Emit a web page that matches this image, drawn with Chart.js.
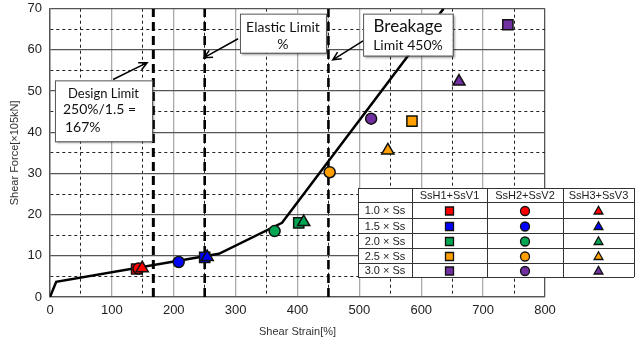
<!DOCTYPE html>
<html>
<head>
<meta charset="utf-8">
<script src="https://cdn.jsdelivr.net/npm/chart.js@4.4.1/dist/chart.umd.min.js"></script>
<style>
  html, body { margin: 0; padding: 0; background: #fff; }
  #wrap { width: 635px; height: 342px; }
</style>
</head>
<body>
<div id="wrap"><canvas id="shearChart"></canvas></div>
<script>
// skeleton curve
var curveStrain = [0, 10, 273, 375, 636];
var curveForce = [0, 3.7, 10.5, 18, 70];

// limit lines (design / elastic / breakage)
var limitStrain = [167, 250, 450];

// legend rows / columns
var levels = ['1.0 × Ss', '1.5 × Ss', '2.0 × Ss', '2.5 × Ss', '3.0 × Ss'];
var waves = ['SsH1+SsV1', 'SsH2+SsV2', 'SsH3+SsV3'];
var levelColors = ['#ff0000', '#0000ff', '#00a651', '#ff9f00', '#7030a0'];

// results per wave, one value per level
var strainH1 = [140, 250, 402, 585, 740];
var forceH1 = [6.8, 9.6, 18.0, 42.7, 66.1];
var strainH2 = [143, 208, 363, 452, 519];
var forceH2 = [6.9, 8.5, 16.0, 30.3, 43.3];
var strainH3 = [149, 254, 410, 546, 661];
var forceH3 = [7.0, 9.7, 18.2, 35.6, 52.3];

function pts(xs, ys) {
  return xs.map(function (x, i) { return { x: x, y: ys[i] } })
}

function markDataset(xs, ys, style, r) {
  return {
    type: 'scatter',
    data: pts(xs, ys),
    pointStyle: style,
    pointRadius: r,
    pointHoverRadius: r,
    pointBackgroundColor: levelColors,
    pointBorderColor: '#111',
    pointBorderWidth: 1.5
  }
}

var datasets = [
  markDataset(strainH3, forceH3, 'triangle', 7),
  markDataset(strainH2, forceH2, 'circle', 5.5),
  markDataset(strainH1, forceH1, 'rect', 7.2),
  {
    type: 'line',
    data: pts(curveStrain, curveForce),
    borderColor: '#000',
    borderWidth: 2.5,
    pointRadius: 0,
    tension: 0
  }
]
limitStrain.forEach(function (s, i) {
  datasets.push({
    type: 'line',
    data: [{ x: s, y: 0 }, { x: s, y: 70 }],
    borderColor: '#000',
    borderWidth: i === 0 ? 3 : 2.6,
    borderDash: [9, 5],
    pointRadius: 0
  })
})

function drawMark(ctx, shape, x, y, s, color) {
  ctx.save();
  ctx.fillStyle = color;
  ctx.strokeStyle = '#111';
  ctx.lineWidth = 1.3;
  ctx.beginPath();
  if (shape === 'rect') {
    ctx.rect(x - s, y - s, 2 * s, 2 * s);
  } else if (shape === 'circle') {
    ctx.arc(x, y, s, 0, Math.PI * 2);
  } else {
    ctx.moveTo(x, y - s * 1.2);
    ctx.lineTo(x + s * 1.1, y + s * 0.75);
    ctx.lineTo(x - s * 1.1, y + s * 0.75);
    ctx.closePath();
  }
  ctx.fill();
  ctx.stroke();
  ctx.restore();
}

function arrow(ctx, x1, y1, x2, y2) {
  var a = Math.atan2(y2 - y1, x2 - x1);
  ctx.beginPath();
  ctx.moveTo(x1, y1);
  ctx.lineTo(x2, y2);
  ctx.moveTo(x2 - 9 * Math.cos(a - 0.45), y2 - 9 * Math.sin(a - 0.45));
  ctx.lineTo(x2, y2);
  ctx.lineTo(x2 - 9 * Math.cos(a + 0.45), y2 - 9 * Math.sin(a + 0.45));
  ctx.stroke();
}

// text boxes with arrows pointing at the limit lines
var notesPlugin = {
  id: 'notes',
  afterDatasetsDraw: function (chart) {
    var ctx = chart.ctx;
    var sx = chart.scales.x, sy = chart.scales.y;
    function px(v) { return sx.getPixelForValue(v) }
    function py(v) { return sy.getPixelForValue(v) }

    // text offsets are measured from the box top
    var boxes = [
      { x0: 8, x1: 165, y0: 52.6, y1: 37.8, tail: [102, 52.8], head: [157, 56.9],
        lines: [['Design Limit', 13, 'center', 13], ['250%/1.5 =', 14, 'left', 29], ['167%', 14, 'left', 47]] },
      { x0: 307, x1: 446, y0: 68.8, y1: 59.3, tail: [304, 62.7], head: [249, 58.1],
        lines: [['Elastic Limit', 14, 'center', 14], ['%', 14, 'center', 31]] },
      { x0: 506, x1: 651, y0: 68.8, y1: 58.6, tail: [506, 62.2], head: [457, 57.6],
        lines: [['Breakage', 17, 'center', 13], ['Limit 450%', 14, 'center', 32]] }
    ];

    ctx.save();
    boxes.forEach(function (b) {
      var l = px(b.x0), r = px(b.x1), t = py(b.y0), btm = py(b.y1);
      ctx.strokeStyle = '#000';
      ctx.lineWidth = 1.5;
      arrow(ctx, px(b.tail[0]), py(b.tail[1]), px(b.head[0]), py(b.head[1]));

      ctx.save();
      ctx.shadowColor = 'rgba(0,0,0,0.35)';
      ctx.shadowOffsetX = 2;
      ctx.shadowOffsetY = 2;
      ctx.shadowBlur = 2;
      ctx.fillStyle = '#fff';
      ctx.fillRect(l, t, r - l, btm - t);
      ctx.restore();
      ctx.strokeStyle = '#555';
      ctx.lineWidth = 1;
      ctx.strokeRect(l + 0.5, t + 0.5, r - l, btm - t);

      ctx.fillStyle = '#111';
      ctx.textBaseline = 'middle';
      b.lines.forEach(function (ln) {
        ctx.font = ln[1] + 'px Lato';
        ctx.textAlign = ln[2];
        var tx = ln[2] === 'center' ? (l + r) / 2 : l + 8;
        if (ln[0] === '167%') tx = l + 10;
        ctx.fillText(ln[0], tx, t + ln[3]);
      });
    });
    ctx.restore();
  },
  afterDraw: function (chart) {
    // legend table
    var ctx = chart.ctx;
    var cx = [358, 412, 487, 563, 634];
    var cy = [188, 202, 218, 233, 248, 263, 277];
    var shapes = ['rect', 'circle', 'triangle'];
    ctx.save();
    ctx.fillStyle = '#fff';
    ctx.fillRect(cx[0], cy[0], cx[4] - cx[0], cy[6] - cy[0]);
    ctx.strokeStyle = '#333';
    ctx.lineWidth = 1;
    ctx.beginPath();
    cx.forEach(function (x) { ctx.moveTo(x + 0.5, cy[0]); ctx.lineTo(x + 0.5, cy[6]) });
    cy.forEach(function (y) { ctx.moveTo(cx[0], y + 0.5); ctx.lineTo(cx[4], y + 0.5) });
    ctx.stroke();

    ctx.fillStyle = '#222';
    ctx.font = '11px "Liberation Sans"';
    ctx.textAlign = 'center';
    ctx.textBaseline = 'middle';
    waves.forEach(function (w, j) {
      ctx.fillText(w, (cx[j + 1] + cx[j + 2]) / 2, (cy[0] + cy[1]) / 2 + 1);
    });
    levels.forEach(function (lv, i) {
      var yc = (cy[i + 1] + cy[i + 2]) / 2 + 1;
      ctx.fillStyle = '#222';
      ctx.fillText(lv, (cx[0] + cx[1]) / 2, yc);
      shapes.forEach(function (s, j) {
        var xc = (cx[j + 1] + cx[j + 2]) / 2;
        drawMark(ctx, s, xc, yc, s === 'circle' ? 4.5 : 4, levelColors[i]);
      });
    });
    ctx.restore();
  }
}

var ctx1 = document.getElementById('shearChart')
var shearChart = new Chart(ctx1, {
  type: 'scatter',
  data: { datasets: datasets },
  plugins: [notesPlugin],
  options: {
    responsive: true,
    maintainAspectRatio: false,
    animation: false,
    layout: { padding: { left: 0, right: 90, top: 8, bottom: 0 } },
    plugins: {
      legend: { display: false },
      tooltip: { enabled: false }
    },
    scales: {
      x: {
        type: 'linear',
        min: 0,
        max: 800,
        afterFit: function (scale) {
          scale.height = 45
          scale.paddingLeft = 0
          scale.paddingRight = 0
        },
        ticks: {
          stepSize: 50,
          autoSkip: false,
          maxRotation: 0,
          padding: 6,
          color: '#222',
          font: { family: 'Liberation Sans', size: 13 },
          callback: function (v) { return v % 100 === 0 ? v : '' }
        },
        grid: {
          drawTicks: false,
          color: function (c) {
            var v = c.tick.value;
            if (v === 0 || v === 800) return '#555';
            return v % 100 === 0 ? '#aaa' : '#222';
          },
          lineWidth: function (c) { return c.tick.value % 100 === 0 ? 1.3 : 1 }
        },
        border: {
          color: '#555',
          width: 1.3,
          dash: function (c) { return c.tick && c.tick.value % 100 !== 0 ? [3, 3] : [] }
        },
        title: {
          display: true,
          text: 'Shear Strain[%]',
          color: '#333',
          font: { family: 'Liberation Sans', size: 11 },
          padding: { top: 0, bottom: 3 }
        }
      },
      y: {
        type: 'linear',
        min: 0,
        max: 70,
        afterFit: function (scale) {
          scale.width = 50
          scale.paddingTop = 0
          scale.paddingBottom = 0
        },
        ticks: {
          stepSize: 5,
          autoSkip: false,
          padding: 8,
          color: '#222',
          font: { family: 'Liberation Sans', size: 13 },
          callback: function (v) { return v % 10 === 0 ? v : '' }
        },
        grid: {
          drawTicks: false,
          color: function (c) { return c.tick.value % 10 === 0 ? '#555' : '#222' },
          lineWidth: function (c) { return c.tick.value % 10 === 0 ? 1.3 : 1 }
        },
        border: {
          color: '#555',
          width: 1.3,
          dash: function (c) { return c.tick && c.tick.value % 10 !== 0 ? [3, 3] : [] }
        },
        title: {
          display: true,
          text: 'Shear Force[×105kN]',
          color: '#333',
          font: { family: 'Liberation Sans', size: 11 },
          padding: { top: 8, bottom: 0 }
        }
      }
    }
  }
})
</script>
</body>
</html>
